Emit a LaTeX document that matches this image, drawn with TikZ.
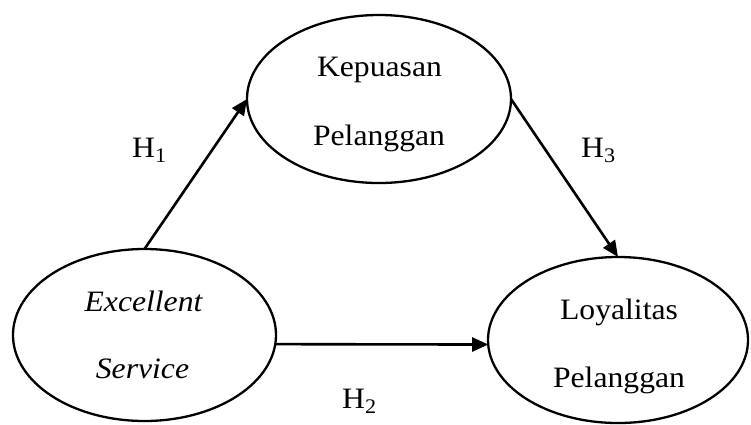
\documentclass[tikz,border=0pt]{standalone}
\usepackage{fontspec}
\setmainfont{Liberation Serif}[FakeStretch=1.07]
\usetikzlibrary{shapes.geometric,arrows.meta}
\begin{document}
\begin{tikzpicture}[x=1pt,y=-1pt,
  var/.style={draw,ellipse,line width=2.3pt,inner sep=0pt,outer sep=0pt},
  txt/.style={anchor=base,inner sep=0pt,font=\fontsize{29.6}{36}\selectfont},
  hlab/.style={anchor=base west,inner sep=0pt,font=\fontsize{29.6}{36}\selectfont},
  link/.style={line width=2.6pt,-{Triangle[length=16pt,width=14pt]}}]
\useasboundingbox (0,0) rectangle (751,424);
\node[var,minimum width=264,minimum height=168] (kp) at (379,99) {};
\node[var,minimum width=263,minimum height=172] (es) at (144.5,335) {};
\node[var,minimum width=260,minimum height=166] (lp) at (618,340) {};
\node[txt] (kp1) at (379.5,76) {Kepuasan};
\node[txt] (kp2) at (379,145) {Pelanggan};
\node[txt] (es1) at (143.5,311) {\itshape Excellent};
\node[txt] (es2) at (142.5,378) {\itshape Service};
\node[txt] (lp1) at (619,319) {Loyalitas};
\node[txt] (lp2) at (619,387) {Pelanggan};
\node[hlab] (h1) at (132,157) {H\textsubscript{1}};
\node[hlab] (h3) at (581,157) {H\textsubscript{3}};
\node[hlab] (h2) at (342,408) {H\textsubscript{2}};
\draw[link] (es.north) -- (kp.west);
\draw[link] (kp.east) -- (lp.north);
\draw[link] (es.-4.4) -- (lp.182.2);
\end{tikzpicture}
\end{document}
